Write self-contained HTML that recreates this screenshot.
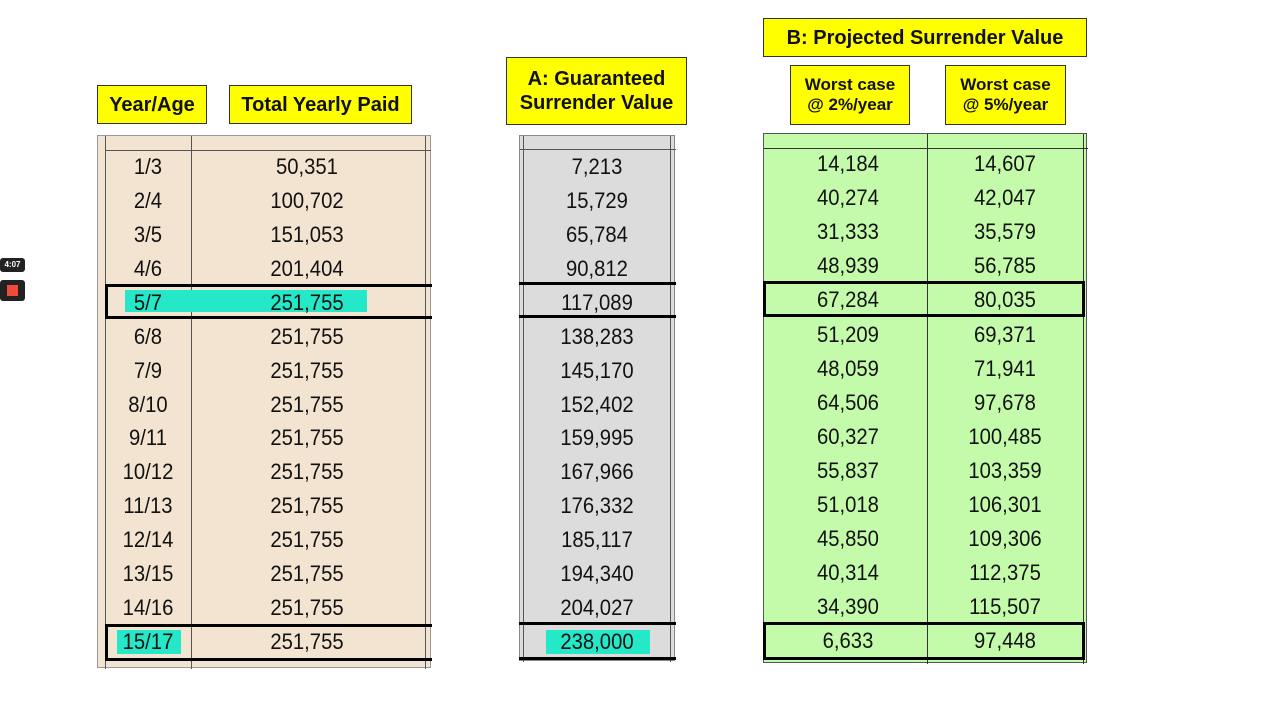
<!DOCTYPE html>
<html><head><meta charset="utf-8"><style>
body{margin:0;width:1280px;height:720px;background:#fff;position:relative;overflow:hidden;font-family:"Liberation Sans",sans-serif}
.a{position:absolute;box-sizing:border-box}
.y{background:#ffff00;border:1.5px solid #333;font-weight:bold;color:#111;display:flex;align-items:center;justify-content:center;text-align:center;line-height:1.2}
.c{position:absolute;font-size:22px;color:#111;text-align:center;transform:translateY(-50%) scaleX(0.92)}
</style></head><body>
<div class="a" style="left:0;top:258px;width:25px;height:14px;background:#222;border-radius:3px;color:#fff;font-size:8px;font-weight:bold;text-align:center;line-height:14px">4:07</div>
<div class="a" style="left:0;top:280px;width:25px;height:21px;background:#222;border-radius:3px"><div class="a" style="left:7px;top:5px;width:11px;height:11px;background:#f04a3a"></div></div>

<div class="a y" style="left:97px;top:85px;width:110px;height:39px;font-size:20px">Year/Age</div>
<div class="a y" style="left:229px;top:85px;width:183px;height:39px;font-size:20px">Total Yearly Paid</div>
<div class="a y" style="left:506px;top:57px;width:181px;height:68px;font-size:20px">A: Guaranteed<br>Surrender Value</div>
<div class="a y" style="left:763px;top:18px;width:324px;height:39px;font-size:20px">B: Projected Surrender Value</div>
<div class="a y" style="left:790px;top:65px;width:120px;height:60px;font-size:17px">Worst case<br>@ 2%/year</div>
<div class="a y" style="left:945px;top:65px;width:121px;height:60px;font-size:17px">Worst case<br>@ 5%/year</div>

<div class="a" style="left:97px;top:135px;width:334px;height:533px;background:#f3e3d1;border:1px solid #999">
  <div class="a" style="left:7px;top:0;width:1px;height:533px;background:#555"></div>
  <div class="a" style="left:93px;top:0;width:1px;height:533px;background:#555"></div>
  <div class="a" style="left:327px;top:0;width:1px;height:533px;background:#555"></div>
  <div class="a" style="left:7px;top:14px;width:326px;height:1px;background:#555"></div>
</div>
<div class="a" style="left:519px;top:135px;width:156px;height:526px;background:#dcdcdc;border:1px solid #888">
  <div class="a" style="left:3px;top:0;width:1px;height:526px;background:#555"></div>
  <div class="a" style="left:150px;top:0;width:1px;height:526px;background:#555"></div>
  <div class="a" style="left:0;top:13px;width:156px;height:1px;background:#555"></div>
</div>
<div class="a" style="left:763px;top:133px;width:324px;height:530px;background:#c4fbaa;border:1px solid #555">
  <div class="a" style="left:163px;top:0;width:1px;height:530px;background:#333"></div>
  <div class="a" style="left:319px;top:0;width:1px;height:530px;background:#333"></div>
  <div class="a" style="left:0;top:14px;width:324px;height:1px;background:#333"></div>
</div>

<div class="a" style="left:125px;top:290px;width:242px;height:22px;background:#25e8c8"></div>
<div class="a" style="left:117px;top:630px;width:64px;height:24px;background:#25e8c8"></div>
<div class="a" style="left:546px;top:630px;width:104px;height:24px;background:#25e8c8"></div>

<div class="a" style="left:105px;top:284px;width:327px;height:35px;border:3px solid #000;border-right:none"></div>
<div class="a" style="left:105px;top:624px;width:327px;height:37px;border:3px solid #000;border-right:none"></div>
<div class="a" style="left:519px;top:282px;width:157px;height:36px;border-top:3px solid #000;border-bottom:3px solid #000"></div>
<div class="a" style="left:519px;top:622px;width:157px;height:38px;border-top:3px solid #000;border-bottom:3px solid #000"></div>
<div class="a" style="left:763px;top:281px;width:322px;height:36px;border:3px solid #000"></div>
<div class="a" style="left:763px;top:622px;width:322px;height:38px;border:3px solid #000"></div>

<div id="cells"></div>
<script>
const years=["1/3","2/4","3/5","4/6","5/7","6/8","7/9","8/10","9/11","10/12","11/13","12/14","13/15","14/16","15/17"];
const paid=["50,351","100,702","151,053","201,404","251,755","251,755","251,755","251,755","251,755","251,755","251,755","251,755","251,755","251,755","251,755"];
const guaranteed=["7,213","15,729","65,784","90,812","117,089","138,283","145,170","152,402","159,995","167,966","176,332","185,117","194,340","204,027","238,000"];
const worst2=["14,184","40,274","31,333","48,939","67,284","51,209","48,059","64,506","60,327","55,837","51,018","45,850","40,314","34,390","6,633"];
const worst5=["14,607","42,047","35,579","56,785","80,035","69,371","71,941","97,678","100,485","103,359","106,301","109,306","112,375","115,507","97,448"];
const cols=[[years,148,"year"],[paid,307,"paid"],[guaranteed,597,"guaranteed"],[worst2,848,"worst2"],[worst5,1005,"worst5"]];
const host=document.getElementById('cells');
cols.forEach(([arr,cx,nm])=>{
  arr.forEach((v,i)=>{
    const d=document.createElement('div');
    d.className='c';
    d.style.left=(cx-70)+'px';d.style.width='140px';
    const rowY=(nm==='worst2'||nm==='worst5')?164+34.1*i:167+33.93*i;
    d.style.top=rowY+'px';
    d.textContent=v;
    
    
    host.appendChild(d);
  });
});
</script>
</body></html>
